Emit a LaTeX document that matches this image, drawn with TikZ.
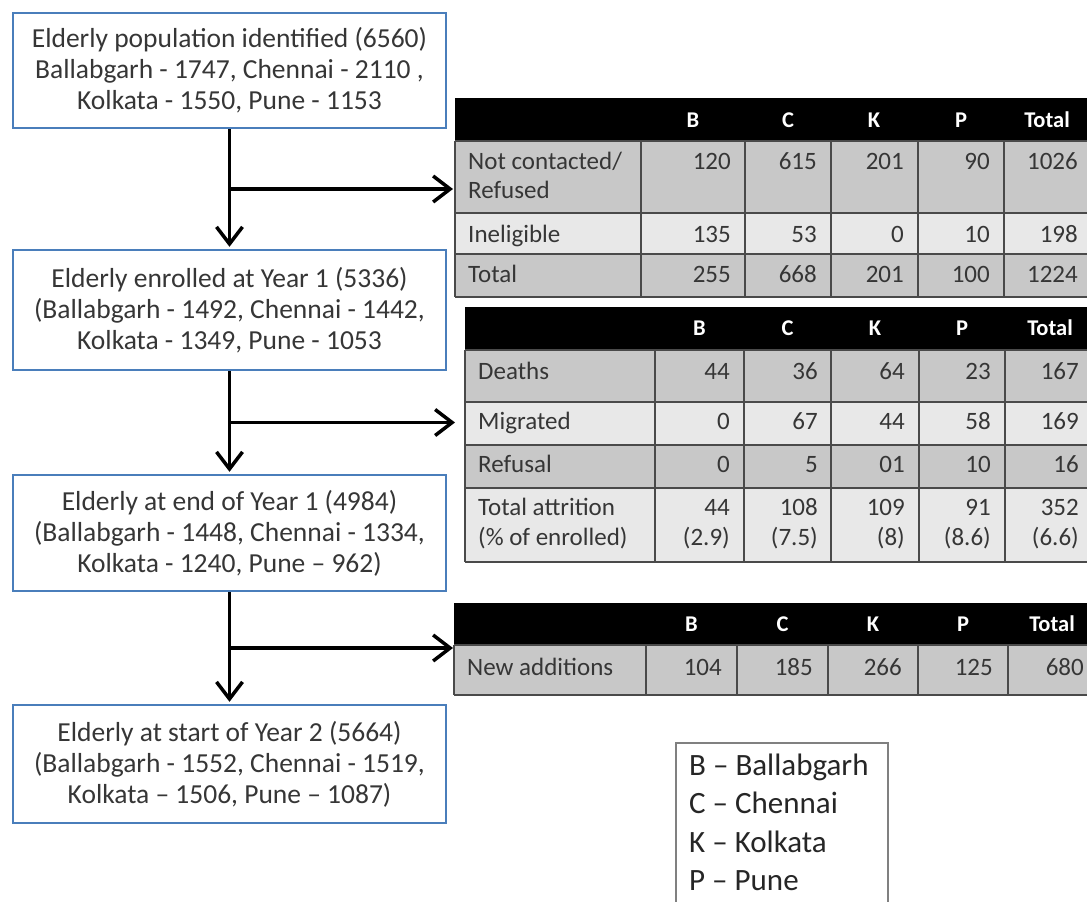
\documentclass[tikz,border=0pt]{standalone}
\usepackage{fontspec}
\setmainfont{Carlito}
\usetikzlibrary{arrows.meta,positioning,calc}

\definecolor{boxblue}{HTML}{4A7EBB}
\definecolor{inkgray}{HTML}{363636}
\definecolor{rowdark}{HTML}{C8C8C8}
\definecolor{rowlight}{HTML}{E8E8E8}
\definecolor{rulegray}{HTML}{4A4A4A}

\tikzset{
  flowbox/.style={draw=boxblue, line width=2.4pt, fill=white, minimum width=433pt,
    align=center, text=inkgray, inner sep=0pt, font=\fontsize{27.5}{31}\selectfont},
  flowarrow/.style={line width=3.5pt, -{Straight Barb[length=17pt,width=26pt]}},
  headcell/.style={text=white, anchor=base, inner sep=0pt, font=\bfseries\fontsize{22.5}{26}\selectfont},
  labcell/.style={text=inkgray, anchor=base west, inner sep=0pt, font=\fontsize{25}{29}\selectfont},
  numcell/.style={text=inkgray, anchor=base east, inner sep=0pt, font=\fontsize{25}{29}\selectfont},
  gridrule/.style={draw=rulegray, line width=1.5pt},
  tableframe/.style={inner sep=0pt, anchor=north west},
  legendbox/.style={draw=gray, line width=1.5pt, fill=white, inner sep=0pt, anchor=north west},
  legendline/.style={text=black!85, anchor=base west, inner sep=0pt, font=\fontsize{31}{38}\selectfont}
}

\begin{document}
\begin{tikzpicture}[x=1pt, y=-1pt]
  \useasboundingbox (0,0) rectangle (1087,902);
  \fill[white] (0,0) rectangle (1087,902);

  % flow boxes
  \node[flowbox, minimum height=115pt] (identified) at (229.5,70.5)
    {Elderly population identified (6560)\\Ballabgarh - 1747, Chennai - 2110 ,\\Kolkata - 1550, Pune - 1153};
  \node[flowbox, minimum height=120pt] (enrolled) at (229.5,310)
    {Elderly enrolled at Year 1 (5336)\\(Ballabgarh - 1492, Chennai - 1442,\\Kolkata - 1349, Pune - 1053};
  \node[flowbox, minimum height=116pt] (yearend) at (229.5,533)
    {Elderly at end of Year 1 (4984)\\(Ballabgarh - 1448, Chennai - 1334,\\Kolkata - 1240, Pune – 962)};
  \node[flowbox, minimum height=118pt] (yearstart) at (229.5,764)
    {Elderly at start of Year 2 (5664)\\(Ballabgarh - 1552, Chennai - 1519,\\Kolkata – 1506, Pune – 1087)};

  % table 1: not contacted / ineligible
  \node[tableframe, minimum width=635pt, minimum height=199pt] (refused) at (455,98) {};
  \fill[black] (455,98) rectangle (1090,141);
  \fill[rowdark] (455,141) rectangle (1090,213);
  \fill[rowlight] (455,213) rectangle (1090,254);
  \fill[rowdark] (455,254) rectangle (1090,297);
  \foreach \y in {141,213,254,297} \draw[gridrule] (455,\y) -- (1090,\y);
  \foreach \x in {455,641,745,831,918,1004} \draw[gridrule] (\x,141) -- (\x,297);
  \foreach \h/\x in {B/693,C/788,K/874,P/961,Total/1047}
    \node[headcell] (refused-\h) at (\x,127) {\h};
  \node[labcell] (refused-l1) at (468,169.5) {Not contacted/};
  \node[labcell] (refused-l2) at (468,198.5) {Refused};
  \node[labcell] (refused-l3) at (468,242) {Ineligible};
  \node[labcell] (refused-l4) at (468,282) {Total};
  \foreach \v/\x [count=\i] in {120/731,615/817,201/904,90/990,1026/1078}
    \node[numcell] (refused-a\i) at (\x,169.5) {\v};
  \foreach \v/\x [count=\i] in {135/731,53/817,0/904,10/990,198/1078}
    \node[numcell] (refused-b\i) at (\x,242) {\v};
  \foreach \v/\x [count=\i] in {255/731,668/817,201/904,100/990,1224/1078}
    \node[numcell] (refused-c\i) at (\x,282) {\v};

  % table 2: attrition during year 1
  \node[tableframe, minimum width=632pt, minimum height=255pt] (attrition) at (465,307) {};
  \fill[black] (465,307) rectangle (1097,350);
  \fill[rowdark] (465,350) rectangle (1097,402);
  \fill[rowlight] (465,402) rectangle (1097,445);
  \fill[rowdark] (465,445) rectangle (1097,488);
  \fill[rowlight] (465,488) rectangle (1097,562);
  \foreach \y in {350,402,445,488,562} \draw[gridrule] (465,\y) -- (1097,\y);
  \foreach \x in {465,655,744,831,919,1005} \draw[gridrule] (\x,350) -- (\x,562);
  \foreach \h/\x in {B/699.5,C/787.5,K/875,P/962,Total/1050}
    \node[headcell] (attrition-\h) at (\x,335.5) {\h};
  \node[labcell] (attrition-l1) at (478,379) {Deaths};
  \node[labcell] (attrition-l2) at (478,429) {Migrated};
  \node[labcell] (attrition-l3) at (478,472) {Refusal};
  \node[labcell] (attrition-l4) at (478,515) {Total attrition};
  \node[labcell] (attrition-l5) at (478,545) {(\% of enrolled)};
  \foreach \v/\x [count=\i] in {44/730,36/818,64/905,23/991,167/1079}
    \node[numcell] (attrition-a\i) at (\x,379) {\v};
  \foreach \v/\x [count=\i] in {0/730,67/818,44/905,58/991,169/1079}
    \node[numcell] (attrition-b\i) at (\x,429) {\v};
  \foreach \v/\x [count=\i] in {0/730,5/818,01/905,10/991,16/1079}
    \node[numcell] (attrition-c\i) at (\x,472) {\v};
  \foreach \v/\x [count=\i] in {44/730,108/818,109/905,91/991,352/1079}
    \node[numcell] (attrition-d\i) at (\x,515) {\v};
  \foreach \v/\x [count=\i] in {(2.9)/730,(7.5)/818,(8)/905,(8.6)/991,(6.6)/1079}
    \node[numcell] (attrition-e\i) at (\x,545) {\v};

  % table 3: new additions
  \node[tableframe, minimum width=643pt, minimum height=92pt] (additions) at (454,603) {};
  \fill[black] (454,603) rectangle (1097,645);
  \fill[rowdark] (454,645) rectangle (1097,695);
  \foreach \y in {645,695} \draw[gridrule] (454,\y) -- (1097,\y);
  \foreach \x in {454,646,737,828,918,1008} \draw[gridrule] (\x,645) -- (\x,695);
  \foreach \h/\x in {B/691.5,C/782.5,K/873,P/963,Total/1052}
    \node[headcell] (additions-\h) at (\x,631) {\h};
  \node[labcell] (additions-l1) at (467,675) {New additions};
  \foreach \v/\x [count=\i] in {104/722,185/813,266/902,125/993,680/1084}
    \node[numcell] (additions-a\i) at (\x,675) {\v};

  % arrows
  \coordinate (split1) at ($(identified.south)!0.5!(enrolled.north)$);
  \coordinate (split2) at ($(enrolled.south)!0.5!(yearend.north)$);
  \coordinate (split3) at ($(yearend.south)!0.5!(yearstart.north)$);
  \draw[flowarrow, shorten >=2pt] (identified.south) -- (enrolled.north);
  \draw[flowarrow, shorten >=2pt] (enrolled.south) -- (yearend.north);
  \draw[flowarrow, shorten >=2pt] (yearend.south) -- (yearstart.north);
  \draw[flowarrow, shorten >=2pt] (split1) -- (refused.west |- split1);
  \draw[flowarrow, shorten >=10pt] (split2) -- (attrition.west |- split2);
  \draw[flowarrow, shorten >=1pt] (split3) -- (additions.west |- split3);

  % legend
  \node[legendbox, minimum width=212pt, minimum height=180pt] (legend) at (675,742) {};
  \foreach \t/\y [count=\i] in {B – Ballabgarh/775,C – Chennai/813,K – Kolkata/852,P – Pune/890}
    \node[legendline] (legend-\i) at (689,\y) {\t};
\end{tikzpicture}
\end{document}
